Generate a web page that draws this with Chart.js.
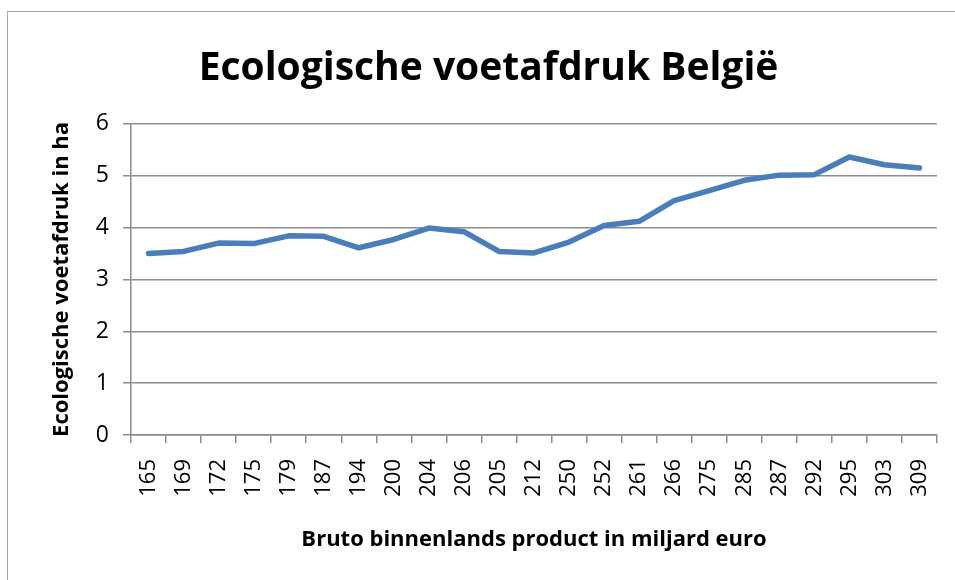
<!DOCTYPE html>
<html lang="nl">
<head>
<meta charset="utf-8">
<title>Ecologische voetafdruk België</title>
<script src="https://cdn.jsdelivr.net/npm/chart.js@4.4.1/dist/chart.umd.min.js"></script>
<style>
    html, body {
        margin: 0;
        padding: 0;
        background: #ffffff;
        overflow: hidden;
    }
    #wrap {
        position: relative;
        width: 955px;
        height: 580px;
    }
    #frame {
        position: absolute;
        left: 7px;
        top: 11px;
        width: 1000px;
        height: 700px;
        border: 1.5px solid #a6a6a6;
        box-sizing: border-box;
    }
    #chart {
        position: absolute;
        left: 0;
        top: 0;
    }
</style>
</head>
<body>
<div id="wrap">
    <div id="frame"></div>
    <canvas id="chart" width="955" height="580"></canvas>
</div>
<script>
// BBP in miljard euro (x-as)
const bbp = ['165', '169', '172', '175', '179', '187', '194', '200', '204', '206', '205', '212',
    '250', '252', '261', '266', '275', '285', '287', '292', '295', '303', '309'];

// ecologische voetafdruk in ha
const voetafdruk = [3.50, 3.54, 3.70, 3.69, 3.84, 3.83, 3.61, 3.77, 3.99, 3.92, 3.54, 3.51,
    3.72, 4.04, 4.12, 4.52, 4.71, 4.91, 5.01, 5.02, 5.36, 5.21, 5.15];

const yTicks = [0, 1, 2, 3, 4, 5, 6];

document.addEventListener('DOMContentLoaded', () => {
    const ctx = document.getElementById('chart').getContext('2d');
    const fam = "'Open Sans', 'Noto Sans', sans-serif";
    const gridColor = '#8c8c8c';

    new Chart(ctx, {
        type: 'line',
        data: {
            labels: bbp,
            datasets: [{
                data: voetafdruk,
                borderColor: '#4a7ebb',
                borderWidth: 5.5,
                borderCapStyle: 'round',
                borderJoinStyle: 'round',
                pointRadius: 0,
                tension: 0,
                fill: false
            }]
        },
        options: {
            responsive: false,
            animation: false,
            layout: {
                padding: { left: 40, right: 18, top: 0, bottom: 20 }
            },
            plugins: {
                legend: { display: false },
                tooltip: { enabled: false },
                title: {
                    display: true,
                    text: 'Ecologische voetafdruk België',
                    color: '#000000',
                    font: { family: fam, size: 39, weight: 'bold' },
                    padding: { top: 45, bottom: 32 }
                }
            },
            scales: {
                x: {
                    offset: true,
                    grid: {
                        offset: true,
                        drawOnChartArea: false,
                        drawTicks: true,
                        tickLength: 8,
                        color: gridColor,
                        lineWidth: 1.5
                    },
                    border: { color: gridColor, width: 1.5 },
                    ticks: {
                        color: '#000000',
                        font: { family: fam, size: 22 },
                        minRotation: 90,
                        maxRotation: 90,
                        padding: 16,
                        autoSkip: false
                    },
                    title: {
                        display: true,
                        text: 'Bruto binnenlands product in miljard euro',
                        color: '#000000',
                        font: { family: fam, size: 22, weight: 'bold' },
                        padding: { top: 0, bottom: 7 }
                    },
                    afterFit: (scale) => {
                        scale.height = 125;
                        scale.paddingLeft = 0;
                        scale.paddingRight = 0;
                    }
                },
                y: {
                    min: 0,
                    max: 6,
                    afterBuildTicks: (scale) => {
                        scale.ticks = yTicks.map(v => ({ value: v }));
                    },
                    grid: {
                        color: gridColor,
                        lineWidth: 1.5,
                        tickLength: 8
                    },
                    border: { color: gridColor, width: 1.5 },
                    ticks: {
                        color: '#000000',
                        font: { family: fam, size: 23 },
                        padding: 14
                    },
                    title: {
                        display: true,
                        text: 'Ecologische voetafdruk in ha',
                        color: '#000000',
                        font: { family: fam, size: 22, weight: 'bold' },
                        padding: { top: 9, bottom: 0 }
                    },
                    afterFit: (scale) => { scale.width = 91; }
                }
            }
        }
    });
});
</script>
</body>
</html>
